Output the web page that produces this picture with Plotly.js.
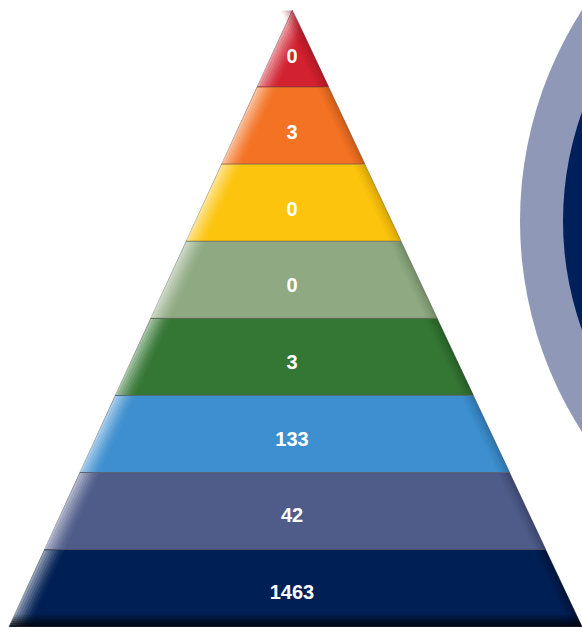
<!DOCTYPE html>
<html>
<head>
<meta charset="utf-8">
<script src="https://cdn.plot.ly/plotly-3.0.1.min.js"></script>
<style>html,body{margin:0;padding:0;background:#fff;}#chart{width:582px;height:627px;}</style>
</head>
<body>
<div id="chart"></div>
<script>
// Data (top layer first)
const levels = ["Level 1","Level 2","Level 3","Level 4","Level 5","Level 6","Level 7","Level 8"];
const values = [0, 3, 0, 0, 3, 133, 42, 1463];
const colors = ["#d2212f","#f47224","#fcc40d","#8faa82","#347634","#3d8fcf","#4f5c8a","#001f54"];
const darkColors = ["#8e1420","#a84c14","#b88d00","#5d7553","#1e4a1e","#245e8c","#2f3758","#000c24"];

// Geometry (pixel-like axis space)
const W = 582, H = 627;
const apexX = 292.5, apexY = 10, layerH = 77.1;
const baseY = apexY + layerH * levels.length;
const baseL = 9, baseR = 582;
function leftX(y){ return apexX - (y - apexY) * (apexX - baseL) / (baseY - apexY); }
function rightX(y){ return apexX + (y - apexY) * (baseR - apexX) / (baseY - apexY); }

const traces = [];
levels.forEach((lv, i) => {
  const y0 = apexY + i * layerH, y1 = y0 + layerH;
  const l0 = leftX(y0), l1 = leftX(y1), r0 = rightX(y0), r1 = rightX(y1);
  traces.push({
    type: "scatter", mode: "lines", fill: "toself",
    x: [l0, r0, r1, l1, l0],
    y: [y0, y0, y1, y1, y0],
    fillcolor: colors[i], line: {color: "rgba(70,70,70,0.45)", width: 1},
    hoverinfo: "skip", showlegend: false
  });
  // left highlight strips
  const hl = [0.55, 0.45, 0.36, 0.28, 0.2, 0.13, 0.07, 0.03];
  hl.forEach((a, j) => {
    const s = 2.5;
    const ax = j * s, bx = (j + 1) * s;
    traces.push({
      type: "scatter", mode: "lines", fill: "toself",
      x: [l0 + ax, l0 + bx, l1 + bx, l1 + ax, l0 + ax],
      y: [y0 + 0.5, y0 + 0.5, y1 - 0.5, y1 - 0.5, y0 + 0.5],
      fillcolor: "rgba(255,255,255," + a + ")", line: {width: 0},
      hoverinfo: "skip", showlegend: false
    });
  });
  // right shadow strips
  const sh = [0.55, 0.42, 0.3, 0.2, 0.12, 0.05];
  sh.forEach((a, j) => {
    const s = 2;
    const ax = j * s, bx = (j + 1) * s;
    traces.push({
      type: "scatter", mode: "lines", fill: "toself",
      x: [r0 - ax, r0 - bx, r1 - bx, r1 - ax, r0 - ax],
      y: [y0 + 0.5, y0 + 0.5, y1 - 0.5, y1 - 0.5, y0 + 0.5],
      fillcolor: darkColors[i], opacity: a, line: {width: 0},
      hoverinfo: "skip", showlegend: false
    });
  });
});
// bottom shadow on base layer
for (let j = 0; j < 6; j++) {
  const ya = baseY - 12 + j * 2, yb = ya + 2;
  traces.push({
    type: "scatter", mode: "lines", fill: "toself",
    x: [leftX(ya), rightX(ya), rightX(yb), leftX(yb), leftX(ya)],
    y: [ya, ya, yb, yb, ya],
    fillcolor: "rgba(0,0,0," + (0.12 + j * 0.14) + ")", line: {width: 0},
    hoverinfo: "skip", showlegend: false
  });
}
// labels
traces.push({
  type: "scatter", mode: "text",
  x: levels.map(() => 292),
  y: levels.map((_, i) => apexY + i * layerH + layerH / 2 + 9 - 0.5 * i),
  text: values.map(String),
  textfont: {family: "Liberation Sans, Arial, sans-serif", size: 20, color: "#ffffff", weight: "bold"},
  hoverinfo: "skip", showlegend: false
});

const layout = {
  width: W, height: H,
  margin: {l: 0, r: 0, t: 0, b: 0},
  paper_bgcolor: "#ffffff", plot_bgcolor: "#ffffff",
  xaxis: {range: [0, W], visible: false, fixedrange: true},
  yaxis: {range: [H, 0], visible: false, fixedrange: true},
  shapes: [
    {type: "circle", xref: "x", yref: "y", x0: 910 - 390, x1: 910 + 390, y0: 221 - 390, y1: 221 + 390,
     fillcolor: "#8f98b7", line: {width: 0}, layer: "below"},
    {type: "circle", xref: "x", yref: "y", x0: 885 - 322, x1: 885 + 322, y0: 221 - 322, y1: 221 + 322,
     fillcolor: "#00205b", line: {width: 0}, layer: "below"}
  ]
};
Plotly.newPlot("chart", traces, layout, {staticPlot: true, displayModeBar: false});
</script>
</body>
</html>
